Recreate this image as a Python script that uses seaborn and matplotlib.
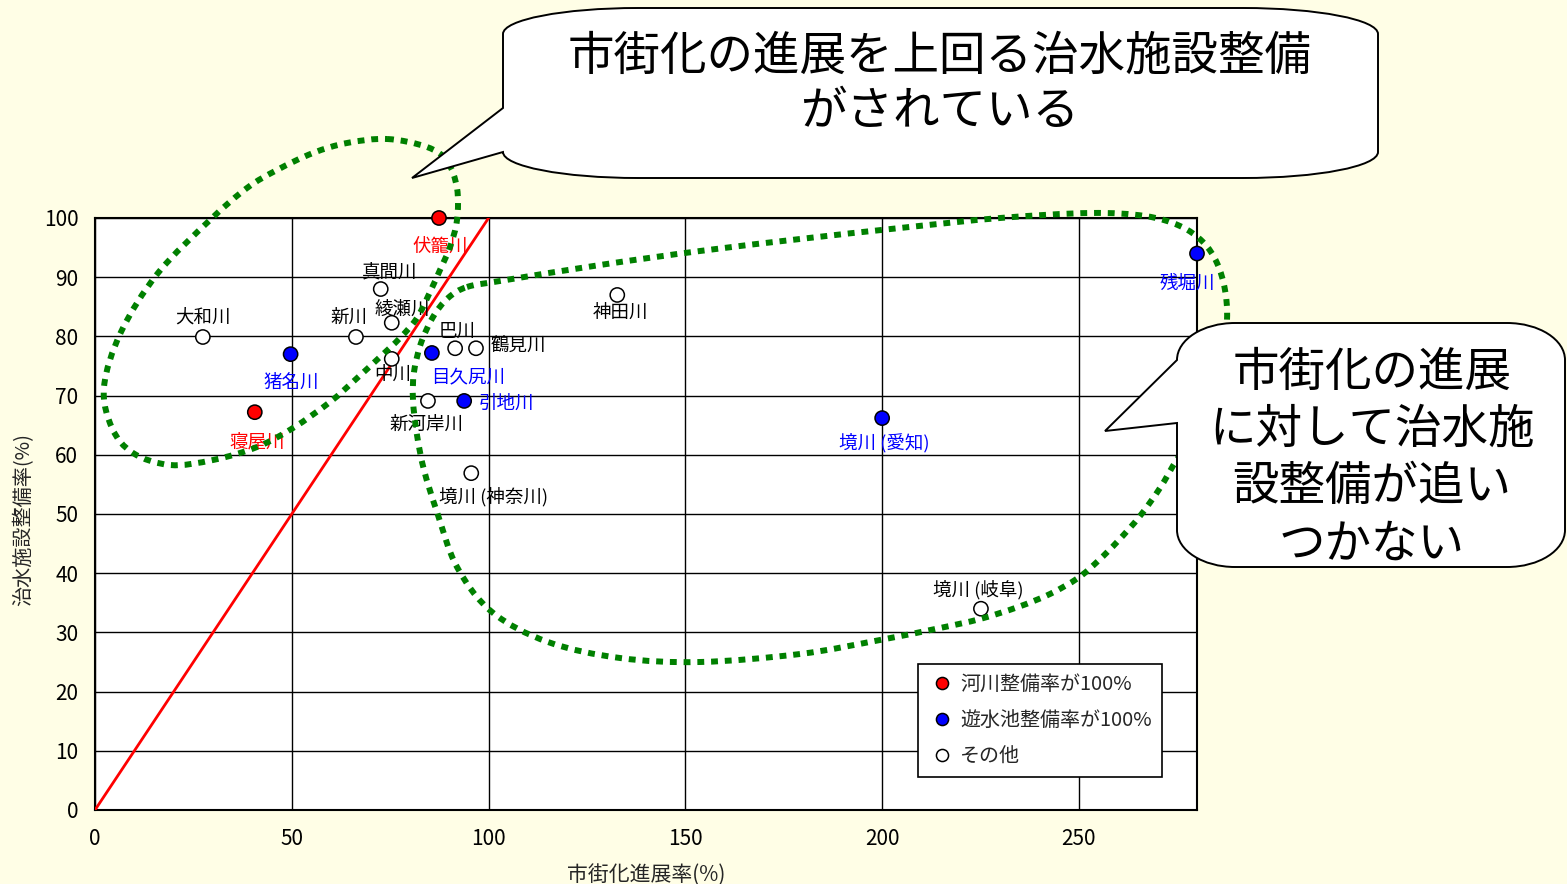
import numpy as np
import pandas as pd
import seaborn as sns
import matplotlib.pyplot as plt
from matplotlib.path import Path
from matplotlib.patches import PathPatch
from matplotlib.ticker import MultipleLocator

# ---- data -------------------------------------------------------------
rivers = ['伏籠川', '寝屋川',
          '猪名川', '目久尻川', '引地川', '境川 (愛知)', '残堀川',
          '大和川', '新川', '真間川', '綾瀬川', '中川', '巴川', '鶴見川',
          '新河岸川', '境川 (神奈川)', '神田川', '境川 (岐阜)']
urbanization = [87.4, 40.6,
                49.7, 85.6, 93.8, 200.0, 280.0,
                27.4, 66.3, 72.6, 75.4, 75.4, 91.5, 96.8,
                84.6, 95.6, 132.7, 225.1]
flood_control = [100.0, 67.2,
                 77.0, 77.2, 69.1, 66.2, 94.0,
                 79.9, 79.9, 88.0, 82.3, 76.2, 78.0, 78.0,
                 69.1, 56.9, 87.0, 34.0]
groups = (['河川整備率が100%'] * 2 + ['遊水池整備率が100%'] * 5 + ['その他'] * 11)
group_order = ['河川整備率が100%', '遊水池整備率が100%', 'その他']
parity = [0, 100]

x_ticks = [0, 50, 100, 150, 200, 250]
y_ticks = [0, 10, 20, 30, 40, 50, 60, 70, 80, 90, 100]

# label offsets (pixels) relative to each point
label_offsets = [(1, -29), (2, -30),
                 (1, -29), (36, -25), (42, -3), (2, -25), (-10, -30),
                 (0, 19), (-7, 19), (9, 17), (11, 13), (1, -16), (2, 16), (42, 1),
                 (-1, -24), (22, -24), (3, -18), (-3, 19)]

# ---- style ------------------------------------------------------------
sns.set_style('white')
plt.rcParams['font.family'] = ['Noto Sans CJK JP', 'DejaVu Sans']
plt.rcParams['axes.unicode_minus'] = False

W, H = 1567, 884
BG = '#FFFEE6'
fig = plt.figure(figsize=(W / 100, H / 100), dpi=100, facecolor=BG)
ax = fig.add_axes([95 / W, 1 - 810 / H, 1102 / W, 592 / H], zorder=1)
ax.set_facecolor('white')

df = pd.DataFrame({'river': rivers, 'urban': urbanization,
                   'flood': flood_control, 'group': groups})
palette = {'河川整備率が100%': '#FF0000', '遊水池整備率が100%': '#0000FF',
           'その他': '#FFFFFF'}
text_colors = {'河川整備率が100%': '#FF0000', '遊水池整備率が100%': '#0000FF',
               'その他': '#000000'}

# y = x reference line
sns.lineplot(x=parity, y=parity, color='#FF0000', lw=2, ax=ax, zorder=3)

sns.scatterplot(data=df, x='urban', y='flood', hue='group', hue_order=group_order,
                palette=palette, s=105, edgecolor='black', linewidth=1.1,
                ax=ax, zorder=4, clip_on=False)

for name, xv, yv, g, (dx, dy) in zip(rivers, urbanization, flood_control, groups, label_offsets):
    ax.annotate(name, (xv, yv), xytext=(dx, dy), textcoords='offset pixels',
                ha='center', va='center', fontsize=13.3, color=text_colors[g],
                zorder=5, annotation_clip=False)

ax.set_xlim(0, 280)
ax.set_ylim(0, 100)
ax.set_xticks(x_ticks)
ax.set_yticks(y_ticks)
ax.xaxis.set_minor_locator(MultipleLocator(10))
ax.yaxis.set_minor_locator(MultipleLocator(2))
ax.grid(True, which='major', color='black', lw=1)
ax.set_axisbelow(True)
for sp in ax.spines.values():
    sp.set_color('black')
    sp.set_linewidth(1.5)
    sp.set_visible(True)
ax.tick_params(axis='both', which='both', direction='in', color='black',
               labelsize=15, labelcolor='black')
ax.tick_params(axis='both', which='major', length=6, width=1)
ax.tick_params(axis='both', which='minor', length=5, width=1)
ax.tick_params(axis='x', which='major', pad=13)
ax.tick_params(axis='y', which='major', pad=12)

ax.set_xlabel('市街化進展率(%)', fontsize=15)
ax.set_ylabel('治水施設整備率(%)', fontsize=14.5)
ax.xaxis.set_label_coords(0.5, -0.092)
ax.yaxis.set_label_coords(-0.055, 0.49)

handles, labels = ax.get_legend_handles_labels()
leg = ax.legend(handles, labels, loc='upper left', bbox_to_anchor=(0.7468, 0.2466),
                borderaxespad=0, frameon=True, fancybox=False, edgecolor='black',
                framealpha=1, fontsize=14.4, handlelength=1.45, handletextpad=0.15,
                borderpad=0.5, labelspacing=0.76, markerscale=0.85)
leg.get_frame().set_linewidth(1.2)

# ---- overlay: grouping loops and callouts (figure pixel space) ----------
ov = fig.add_axes([0, 0, 1, 1], zorder=2)
ov.set_xlim(0, W)
ov.set_ylim(H, 0)
ov.set_axis_off()
ov.patch.set_alpha(0)


def smooth_closed(points):
    P = np.asarray(points, dtype=float)
    n = len(P)
    verts = [P[0]]
    codes = [Path.MOVETO]
    for i in range(n):
        p0, p1, p2, p3 = P[i - 1], P[i], P[(i + 1) % n], P[(i + 2) % n]
        c1 = p1 + (p2 - p0) / 6
        c2 = p2 - (p3 - p1) / 6
        verts += [c1, c2, p2]
        codes += [Path.CURVE4] * 3
    return Path(verts, codes)


left_loop = [(387, 139), (427, 147), (447, 161), (457, 188), (457, 220), (450, 247),
             (440, 270), (430, 292), (417, 318), (400, 338), (380, 357), (355, 380),
             (330, 402), (293, 428), (257, 447), (213, 460), (170, 465), (133, 453),
             (112, 428), (104, 387), (121, 332), (158, 273), (210, 220), (247, 188),
             (277, 170), (313, 153), (347, 143)]
right_loop = [(467, 287), (500, 281), (600, 265), (700, 251), (800, 239), (900, 228),
              (1000, 218), (1090, 213), (1145, 216), (1180, 226), (1203, 242),
              (1217, 263), (1225, 290), (1227, 320), (1222, 365), (1205, 420),
              (1178, 458), (1160, 488), (1140, 516), (1118, 541), (1098, 561),
              (1078, 578), (1050, 594), (1018, 607), (980, 619), (940, 628),
              (880, 640), (800, 654), (700, 662), (620, 658), (548, 642),
              (492, 612), (457, 567), (437, 512), (424, 470), (417, 435),
              (413, 400), (414, 372), (421, 343), (433, 317), (448, 298)]

for pts in (left_loop, right_loop):
    patch = PathPatch(smooth_closed(pts), facecolor='none', edgecolor='#008000',
                      lw=4.3, linestyle=(0, (1.15, 1.15)), capstyle='butt', zorder=3)
    ov.add_patch(patch)


def callout(x0, y0, x1, y1, rx, ry, wedge_top, wedge_bot, tip):
    k = 1 - 0.5523
    verts = [(x0, y0 + ry),
             (x0, y0 + ry * k), (x0 + rx * k, y0), (x0 + rx, y0),
             (x1 - rx, y0),
             (x1 - rx * k, y0), (x1, y0 + ry * k), (x1, y0 + ry),
             (x1, y1 - ry),
             (x1, y1 - ry * k), (x1 - rx * k, y1), (x1 - rx, y1),
             (x0 + rx, y1),
             (x0 + rx * k, y1), (x0, y1 - ry * k), (x0, y1 - ry),
             (x0, wedge_bot), tip, (x0, wedge_top), (x0, y0 + ry)]
    codes = ([Path.MOVETO] + [Path.CURVE4] * 3 + [Path.LINETO] + [Path.CURVE4] * 3 +
             [Path.LINETO] + [Path.CURVE4] * 3 + [Path.LINETO] + [Path.CURVE4] * 3 +
             [Path.LINETO] * 3 + [Path.CLOSEPOLY])
    return Path(verts, codes)


ov.add_patch(PathPatch(callout(503, 8, 1378, 178, 135, 26, 108, 152, (412, 178)),
                       facecolor='white', edgecolor='black', lw=1.4, zorder=6))
ov.add_patch(PathPatch(callout(1177, 323, 1565, 567, 58, 37, 360, 423, (1105, 431)),
                       facecolor='white', edgecolor='black', lw=1.4, zorder=6))

top_lines = ['市街化の進展を上回る治水施設整備', 'がされている']
for i, t in enumerate(top_lines):
    ov.text(940, 57 + i * 55, t, ha='center', va='center', fontsize=33.5,
            color='black', zorder=7)

right_lines = ['市街化の進展', 'に対して治水施', '設整備が追い', 'つかない']
for i, t in enumerate(right_lines):
    ov.text(1372, 373 + i * 57, t, ha='center', va='center', fontsize=33.5,
            color='black', zorder=7)

fig.savefig('out.png', dpi=100, facecolor=BG)
